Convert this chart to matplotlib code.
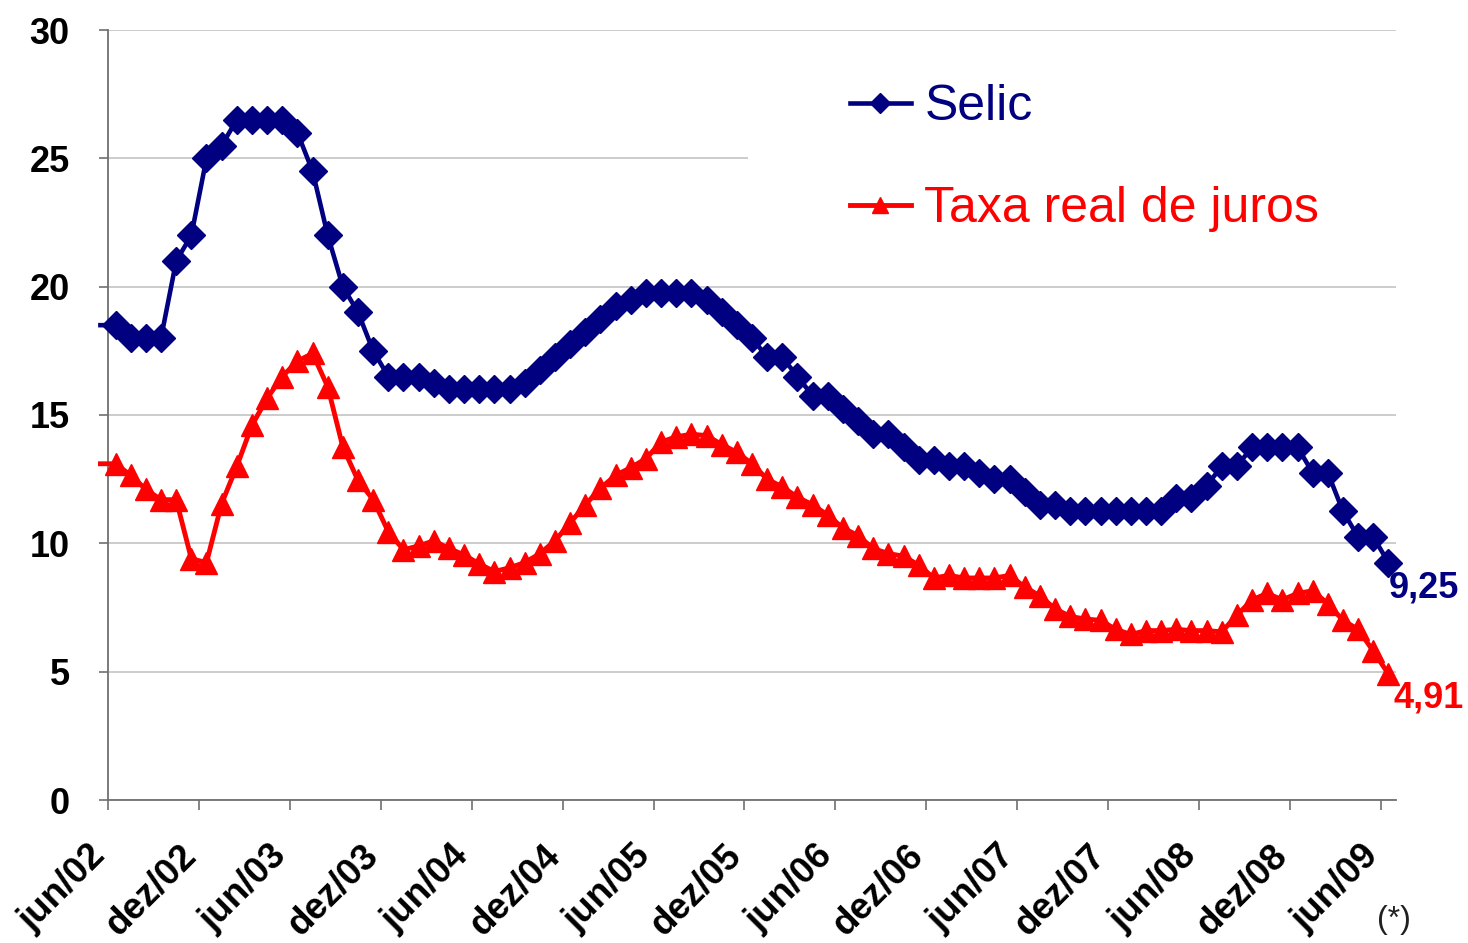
import matplotlib.pyplot as plt
from matplotlib.patches import Rectangle
from matplotlib.transforms import ScaledTranslation
import numpy as np
import pandas as pd

plt.rcParams['font.family'] = ['Liberation Sans', 'DejaVu Sans']

# monthly series, mai/02 .. jun/09 (first point is only the lead-in line)
meses = pd.date_range('2002-05-01', '2009-06-01', freq='MS')

selic = [18.5,
         18.5, 18.0, 18.0, 18.0, 21.0, 22.0, 25.0,
         25.5, 26.5, 26.5, 26.5, 26.5, 26.0, 24.5, 22.0, 20.0, 19.0, 17.5, 16.5,
         16.5, 16.5, 16.25, 16.0, 16.0, 16.0, 16.0, 16.0, 16.25, 16.75, 17.25, 17.75,
         18.25, 18.75, 19.25, 19.5, 19.75, 19.75, 19.75, 19.75, 19.5, 19.0, 18.5, 18.0,
         17.25, 17.25, 16.5, 15.75, 15.75, 15.25, 14.75, 14.25, 14.25, 13.75, 13.25, 13.25,
         13.0, 13.0, 12.75, 12.5, 12.5, 12.0, 11.5, 11.5, 11.25, 11.25, 11.25, 11.25,
         11.25, 11.25, 11.25, 11.75, 11.75, 12.25, 13.0, 13.0, 13.75, 13.75, 13.75, 13.75,
         12.75, 12.75, 11.25, 10.25, 10.25, 9.25]

taxa_real = [13.1,
             13.1, 12.65, 12.1, 11.7, 11.7, 9.4, 9.25,
             11.55, 13.0, 14.6, 15.65, 16.5, 17.1, 17.4, 16.1, 13.75, 12.45, 11.7, 10.45,
             9.75, 9.9, 10.1, 9.8, 9.55, 9.2, 8.9, 9.05, 9.25, 9.6, 10.1, 10.8,
             11.5, 12.15, 12.65, 12.95, 13.3, 13.95, 14.15, 14.25, 14.2, 13.85, 13.55, 13.1,
             12.5, 12.2, 11.8, 11.5, 11.1, 10.6, 10.3, 9.8, 9.6, 9.5, 9.15, 8.65,
             8.75, 8.65, 8.65, 8.65, 8.75, 8.3, 7.95, 7.45, 7.15, 7.05, 7.0, 6.65,
             6.45, 6.6, 6.6, 6.65, 6.6, 6.6, 6.55, 7.2, 7.8, 8.05, 7.8, 8.05,
             8.15, 7.65, 7.0, 6.65, 5.8, 4.91]

tick_labels = ['jun/02', 'dez/02', 'jun/03', 'dez/03', 'jun/04', 'dez/04', 'jun/05',
               'dez/05', 'jun/06', 'dez/06', 'jun/07', 'dez/07', 'jun/08', 'dez/08',
               'jun/09']

navy = '#000080'
red = '#ff0000'

n = len(meses)
x = np.arange(n) - 0.5
marks = list(range(1, n))
tick_pos = list(range(0, 85, 6))

fig = plt.figure(figsize=(14.68, 9.43), dpi=100)
ax = fig.add_axes([108/1468, 1 - 800/943, (1396 - 108)/1468, (800 - 30)/943])

ax.plot(x, selic, color=navy, lw=3.3, marker='D', ms=14, markevery=marks,
        clip_on=False, zorder=4, label='Selic')
ax.plot(x, taxa_real, color=red, lw=3.5, marker='^', ms=15.5, markevery=marks,
        clip_on=False, zorder=3, label='Taxa real de juros')

ax.set_xlim(0, 85)
ax.set_ylim(0, 30)
ax.set_yticks(range(0, 31, 5))
ax.set_xticks(tick_pos)
ax.set_xticklabels([])
for lab in ax.get_yticklabels():
    lab.set_fontsize(26)
    lab.set_fontweight('bold')

# rotated month labels, placed by hand under each tick
lab_tr = ax.get_xaxis_transform() + ScaledTranslation(-0.08, -0.50, fig.dpi_scale_trans)
for p, lab in zip(tick_pos, tick_labels):
    ax.text(p, 0, lab, transform=lab_tr, rotation=45, ha='right', va='center',
            rotation_mode='anchor', fontsize=26.5, fontweight='bold')

ax.yaxis.grid(True, color='#c8c8c8', lw=1.3)
ax.set_axisbelow(True)
# white area behind the legend hides part of the grid
ax.add_patch(Rectangle((0.497, 0.75), 0.503, 0.2, transform=ax.transAxes,
                       facecolor='white', edgecolor='none', zorder=1))

for s in ['top', 'right']:
    ax.spines[s].set_visible(False)
for s in ['left', 'bottom']:
    ax.spines[s].set_color('#707070')
    ax.spines[s].set_linewidth(1.3)
ax.tick_params(axis='y', length=6.5, width=1.2, color='#707070', pad=21)
ax.tick_params(axis='x', length=7, width=1.2, color='#707070')

ax.legend(loc='upper left', bbox_to_anchor=(850/1468, 1 - 84/943),
          bbox_transform=fig.transFigure, frameon=False, fontsize=36,
          labelcolor='linecolor', handlelength=1.22, handletextpad=0.27,
          labelspacing=1.12, markerscale=0.72, borderpad=0, borderaxespad=0)

ax.annotate('9,25', xy=(x[-1], selic[-1]), xytext=(0, -18), textcoords='offset points',
            ha='left', va='center', color=navy, fontsize=26, fontweight='bold')
ax.annotate('4,91', xy=(x[-1], taxa_real[-1]), xytext=(4, -17), textcoords='offset points',
            ha='left', va='center', color=red, fontsize=26, fontweight='bold')

fig.text(1394/1468, 1 - 920/943, '(*)', fontsize=23, ha='center', va='center',
         color='#202020')

fig.savefig('out.png', dpi=100)
